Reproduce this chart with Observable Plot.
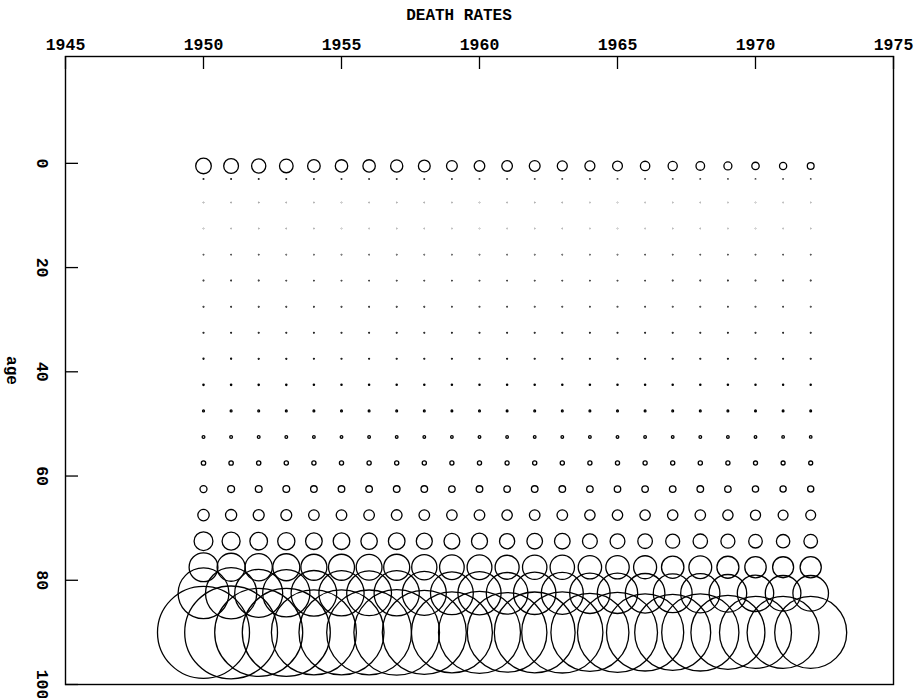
<!DOCTYPE html>
<html><head><meta charset="utf-8">
<script src="https://cdn.jsdelivr.net/npm/d3@7"></script>
<script src="https://cdn.jsdelivr.net/npm/@observablehq/plot@0.6"></script>
<style>body{margin:0;background:#fff}</style>
</head><body><div id="chart"></div>
<script>
const years = [1950,1951,1952,1953,1954,1955,1956,1957,1958,1959,1960,1961,1962,1963,1964,1965,1966,1967,1968,1969,1970,1971,1972];
const ages = [0.5, 3, 7.5, 12.5, 17.5, 22.5, 27.5, 32.5, 37.5, 42.5, 47.5, 52.5, 57.5, 62.5, 67.5, 72.5, 77.5, 82.5, 90];

// death rates per 1000, one array per age group, 1950..1972
const rate_0  = [31.2,29.6,28.4,27.2,25.2,24.8,24.8,24.4,23.6,21.6,21.2,21.2,21.6,20.0,20.0,19.6,18.8,18.4,17.2,16.0,14.8,14.4,13.6];
const rate_3  = [1.4,1.4,1.3,1.3,1.2,1.2,1.1,1.1,1.1,1.1,1.0,1.0,1.0,1.0,1.0,0.9,0.9,0.9,0.9,0.9,0.8,0.8,0.8];
const rate_7  = [0.6,0.6,0.6,0.5,0.5,0.5,0.5,0.5,0.5,0.5,0.5,0.5,0.5,0.5,0.4,0.4,0.4,0.4,0.4,0.4,0.4,0.4,0.4];
const rate_12 = [0.5,0.5,0.5,0.5,0.5,0.4,0.4,0.4,0.4,0.4,0.4,0.4,0.4,0.4,0.4,0.4,0.4,0.4,0.4,0.4,0.4,0.4,0.4];
const rate_17 = [1.0,1.0,1.0,0.9,0.9,0.9,0.9,0.9,0.9,0.9,0.9,0.9,0.9,0.9,0.9,0.9,1.0,1.0,1.0,1.0,1.0,1.0,1.0];
const rate_22 = [1.3,1.3,1.3,1.2,1.2,1.2,1.2,1.2,1.2,1.2,1.2,1.2,1.2,1.2,1.2,1.2,1.2,1.3,1.3,1.3,1.3,1.3,1.3];
const rate_27 = [1.4,1.4,1.3,1.3,1.3,1.3,1.3,1.3,1.3,1.2,1.2,1.2,1.2,1.2,1.2,1.2,1.2,1.2,1.2,1.2,1.2,1.2,1.2];
const rate_32 = [1.6,1.6,1.5,1.5,1.5,1.5,1.5,1.5,1.5,1.5,1.5,1.5,1.5,1.5,1.5,1.5,1.5,1.5,1.5,1.5,1.4,1.4,1.4];
const rate_37 = [2.0,2.0,1.9,1.9,1.8,1.8,1.8,1.8,1.8,1.8,1.8,1.8,1.8,1.8,1.8,1.8,1.8,1.8,1.8,1.8,1.7,1.7,1.7];
const rate_42 = [2.7,2.7,2.6,2.6,2.5,2.5,2.5,2.5,2.5,2.5,2.5,2.5,2.5,2.5,2.5,2.5,2.5,2.5,2.5,2.5,2.4,2.4,2.4];
const rate_47 = [3.8,3.8,3.7,3.6,3.6,3.6,3.6,3.6,3.6,3.5,3.6,3.5,3.6,3.6,3.6,3.6,3.6,3.6,3.6,3.6,3.5,3.5,3.5];
const rate_52 = [5.6,5.6,5.5,5.4,5.3,5.3,5.3,5.3,5.3,5.2,5.3,5.2,5.3,5.3,5.3,5.3,5.3,5.3,5.4,5.3,5.2,5.1,5.1];
const rate_57 = [8.8,8.8,8.6,8.5,8.4,8.4,8.4,8.4,8.4,8.2,8.3,8.2,8.4,8.4,8.3,8.3,8.3,8.4,8.5,8.3,8.1,8.0,8.0];
const rate_62 = [14.0,13.8,13.6,13.5,13.2,13.2,13.2,13.2,13.2,13.0,13.2,12.9,13.2,13.2,13.0,13.0,13.0,13.1,13.2,12.9,12.6,12.4,12.4];
const rate_67 = [22.8,22.4,22.0,21.8,21.2,21.2,21.2,21.4,21.2,21.0,21.2,20.8,21.2,21.2,20.8,20.8,20.8,20.8,21.0,20.6,20.2,19.8,19.8];
const rate_72 = [37.6,36.0,35.2,34.4,33.2,33.2,32.8,33.2,32.0,31.6,32.0,30.4,31.2,31.2,29.6,29.6,29.2,28.0,28.8,28.0,27.2,26.8,27.2];
const rate_77 = [57.6,56.0,54.4,54.0,52.0,52.0,51.6,52.0,50.4,49.2,49.6,48.0,48.8,48.8,46.8,46.8,46.0,44.8,45.6,44.0,42.8,42.0,42.4];
const rate_82 = [101.6,102.4,96.0,94.4,91.2,90.4,89.6,90.4,88.0,85.6,86.4,83.2,84.8,84.0,80.8,80.8,79.2,77.6,78.4,75.2,72.8,71.2,71.2];
const rate_85 = [184,185.6,176,176,170,170,169.6,171.2,168,162,164,159.2,161.6,162.4,156,160,154.4,152,154.4,148,144,144,144];

const rateRows = [rate_0,rate_3,rate_7,rate_12,rate_17,rate_22,rate_27,rate_32,rate_37,rate_42,rate_47,rate_52,rate_57,rate_62,rate_67,rate_72,rate_77,rate_82,rate_85];
const xTicks = [1945,1950,1955,1960,1965,1970,1975];
const yTicks = [0,20,40,60,80,100];
const title = "DEATH RATES";
const yLabel = "age";

const data = ages.flatMap((age, i) => years.map((year, j) => ({year, age, rate: rateRows[i][j]})));

const W = 917, H = 698, mL = 65, mR = 24, mT = 56, mB = 14;
const fw = W - mL - mR, fh = H - mT - mB;
const font = "'Liberation Mono', 'DejaVu Sans Mono', monospace";

const chart = Plot.plot({
  width: W, height: H,
  marginLeft: mL, marginRight: mR, marginTop: mT, marginBottom: mB,
  style: {fontFamily: font, background: "#fff", color: "#000"},
  x: {domain: [1945, 1975], axis: null},
  y: {domain: [-20.5, 100], reverse: true, axis: null},
  r: {type: "linear", domain: [0, 200], range: [0, 50]},
  marks: [
    Plot.frame({stroke: "#000", strokeWidth: 1.4}),
    Plot.tickX(xTicks, {x: d => d, insetBottom: fh - 13, stroke: "#000", strokeWidth: 1.3}),
    Plot.tickY(yTicks, {y: d => d, insetRight: fw - 13, stroke: "#000", strokeWidth: 1.3}),
    Plot.text(xTicks, {x: d => d, text: d => String(d), frameAnchor: "top", dy: -12, lineAnchor: "middle", fontSize: 16.5, fontWeight: "bold", fill: "#000"}),
    Plot.text(yTicks, {y: d => d, text: d => String(d), frameAnchor: "left", dx: -23, rotate: 90, textAnchor: "middle", lineAnchor: "middle", fontSize: 16.5, fontWeight: "bold", fill: "#000"}),
    Plot.text([title], {text: d => d, frameAnchor: "top", dx: (W / 2) - (mL + fw / 2), dy: -42, lineAnchor: "middle", fontSize: 16, fontWeight: "bold", fill: "#000"}),
    Plot.text([yLabel], {text: d => d, frameAnchor: "left", dx: -53, rotate: 90, textAnchor: "middle", lineAnchor: "middle", fontSize: 16, fontWeight: "bold", fill: "#000"}),
    Plot.dot(data, {x: "year", y: "age", r: "rate", stroke: "#000", fill: "none", strokeWidth: 1.3})
  ]
});
document.getElementById("chart").appendChild(chart);
</script>
</body></html>
